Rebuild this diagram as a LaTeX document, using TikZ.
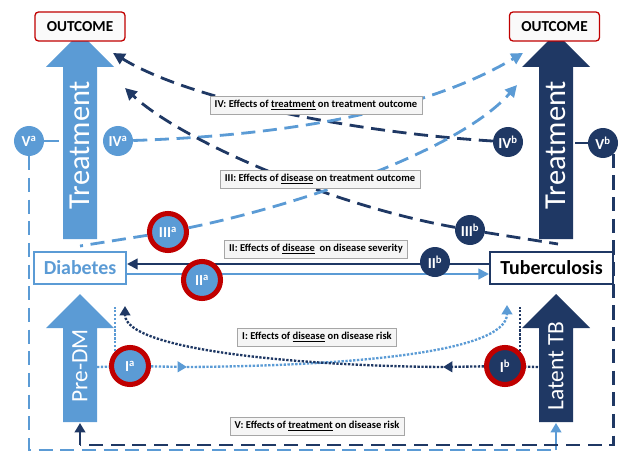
\documentclass[tikz,border=0pt]{standalone}
\usepackage{fontspec}
\setmainfont{Carlito}
\usetikzlibrary{arrows.meta, calc}

\definecolor{lblue}{HTML}{5B9BD5}
\definecolor{navy}{HTML}{1F3864}
\definecolor{ringred}{HTML}{C00000}

\begin{document}
\begin{tikzpicture}[x=0.03cm, y=-0.03cm,
  lcirc/.style={circle, fill=lblue, text=white, inner sep=0pt, minimum size=0.9cm, font=\fontsize{13}{13}\selectfont\bfseries},
  dcirc/.style={lcirc, fill=navy},
  rring/.style={draw=ringred, line width=4.3pt, minimum size=1.11cm},
  outc/.style={draw=ringred, line width=1.1pt, rounded corners=3pt, fill=gray!4, minimum width=2.7cm, minimum height=0.87cm, inner sep=0pt, font=\fontsize{13}{13}\selectfont\bfseries},
  disbox/.style={line width=1.7pt, fill=white, minimum height=0.96cm, inner sep=0pt, font=\fontsize{17}{17}\selectfont\bfseries},
  bigtxt/.style={rotate=90, text=white, inner sep=0pt},
  lbl/.style={draw=gray!70, fill=gray!8, inner xsep=4pt, inner ysep=0pt, minimum height=0.54cm, font=\fontsize{9}{10}\selectfont\bfseries},
  dsh/.style={line width=2.4pt, dash pattern=on 12pt off 6.5pt},
  dotl/.style={line width=2pt, dash pattern=on 2pt off 1.3pt},
  tipd/.style={-{Triangle[length=10pt,width=10pt]}},
  tipt/.style={-{Triangle[length=8pt,width=9pt]}}
]
\useasboundingbox (0,0) rectangle (621,452);

% big arrows
\fill[lblue] (63,239) -- (63,67) -- (46,67) -- (80,33) -- (114,67) -- (97,67) -- (97,239) -- cycle;
\fill[navy] (539,239) -- (539,67) -- (522,67) -- (556,33) -- (590,67) -- (573,67) -- (573,239) -- cycle;
\fill[lblue] (63,422) -- (63,328) -- (46,328) -- (80,294) -- (114,328) -- (97,328) -- (97,422) -- cycle;
\fill[navy] (539,422) -- (539,328) -- (522,328) -- (556,294) -- (590,328) -- (573,328) -- (573,422) -- cycle;

\node[bigtxt, font=\fontsize{26}{26}\selectfont] (treatL) at (80,145) {Treatment};
\node[bigtxt, font=\fontsize{26}{26}\selectfont] (treatR) at (556,145) {Treatment};
\node[bigtxt, font=\fontsize{20}{20}\selectfont] (predm) at (80,366) {Pre-DM};
\node[bigtxt, font=\fontsize{20}{20}\selectfont] (latent) at (556,366) {Latent TB};

\node[outc] (outL) at (80,26.5) {OUTCOME};
\node[outc] (outR) at (554.5,26.5) {OUTCOME};

\node[disbox, draw=lblue, text=lblue, minimum width=2.76cm] (dia) at (80,268) {Diabetes};
\node[disbox, draw=navy, text=black, minimum width=3.69cm] (tb) at (551.5,268) {Tuberculosis};

% end points on the arrows
\coordinate (outLa) at (113,53);
\coordinate (outLb) at (125,88);
\coordinate (outRa) at (523,53);
\coordinate (outRb) at (517,85);
\coordinate (treatLb) at (80,246);
\coordinate (treatRb) at (558,244);
\coordinate (treatLw) at (59,141);
\coordinate (treatRe) at (575,143);
\coordinate (predmR) at (97,367);
\coordinate (latentL) at (538,367);
\coordinate (predmB) at (80,423);
\coordinate (latentB) at (556,423);
\coordinate (diaB) at (125,306);
\coordinate (tbB) at (507,305);
\coordinate (iaArr) at (187,367);
\coordinate (ibArr) at (443,367);
\coordinate (vaCorner) at (556,450);
\coordinate (vbCorner) at (80,445);

% II
\draw[navy, line width=1.8pt, -{Triangle[length=9pt,width=9pt]}] ($(tb.west)+(0,-4)$) -- ($(dia.east)+(0,-4)$);
\draw[lblue, line width=1.8pt, -{Triangle[length=9pt,width=9pt]}] ($(dia.east)+(0,6)$) -- ($(tb.west)+(0,6)$);

% circles
\node[lcirc] (va) at (29,141) {V\textsuperscript{a}};
\node[lcirc] (iva) at (118,141) {IV\textsuperscript{a}};
\node[dcirc] (ivb) at (508,142) {IV\textsuperscript{b}};
\node[dcirc] (vb) at (603,143) {V\textsuperscript{b}};
\node[lcirc, rring] (iiia) at (168,232) {III\textsuperscript{a}};
\node[dcirc] (iiib) at (470,230) {III\textsuperscript{b}};
\node[lcirc, rring] (iia) at (202,280) {II\textsuperscript{a}};
\node[dcirc] (iib) at (435,262) {II\textsuperscript{b}};
\node[lcirc, rring] (ia) at (130,366) {I\textsuperscript{a}};
\node[dcirc, rring] (ib) at (505,366) {I\textsuperscript{b}};

% IV and III
\draw[navy, dsh, tipd] (ivb) .. controls (350,132) and (190,100) .. (outLa);
\draw[lblue, dsh, tipd] (iva) .. controls (300,135) and (430,108) .. (outRa);
\draw[navy, dsh, tipd] (iiib) .. controls (330,205) and (180,140) .. (outLb);
\draw[lblue, dsh, tipd] (iiia) .. controls (300,205) and (460,150) .. (outRb);
\draw[lblue, dsh] (iiia) -- (treatLb);
\draw[navy, dsh] (iiib) -- (treatRb);

% I
\draw[lblue, dotl] (predmR) -- (ia);
\draw[lblue, dotl] (ia.north west) -- ++(0,-44);
\draw[lblue, dotl, tipt] (ia) -- (iaArr);
\draw[lblue, dotl, tipt] (iaArr) .. controls (330,366) and (507,355) .. (tbB);
\draw[navy, dotl] (latentL) -- (ib);
\draw[navy, dotl] (ib.north east) -- ++(0,-44);
\draw[navy, dotl, tipt] (ib) -- (ibArr);
\draw[navy, dotl, tipt] (ibArr) .. controls (300,366) and (125,350) .. (diaB);

% V
\draw[lblue, line width=1.6pt] (va) -- (treatLw);
\draw[navy, line width=1.6pt] (treatRe) -- (vb);
\draw[lblue, dsh] (va) |- (vaCorner);
\draw[lblue, line width=1.8pt, tipt] (vaCorner) -- (latentB);
\draw[navy, dsh] (vb.south east) |- (vbCorner);
\draw[navy, line width=1.8pt, tipt] (vbCorner) -- (predmB);

% labels
\node[lbl] (l4) at (316,105) {IV: Effects of \underline{treatment} on treatment outcome};
\node[lbl] (l3) at (320,179) {III: Effects of \underline{disease} on treatment outcome};
\node[lbl] (l2) at (316,249) {II: Effects of \underline{disease}\ \ on disease severity};
\node[lbl] (l1) at (317,337) {I: Effects of \underline{disease} on disease risk};
\node[lbl] (l5) at (317,426) {V: Effects of \underline{treatment} on disease risk};
\end{tikzpicture}
\end{document}
